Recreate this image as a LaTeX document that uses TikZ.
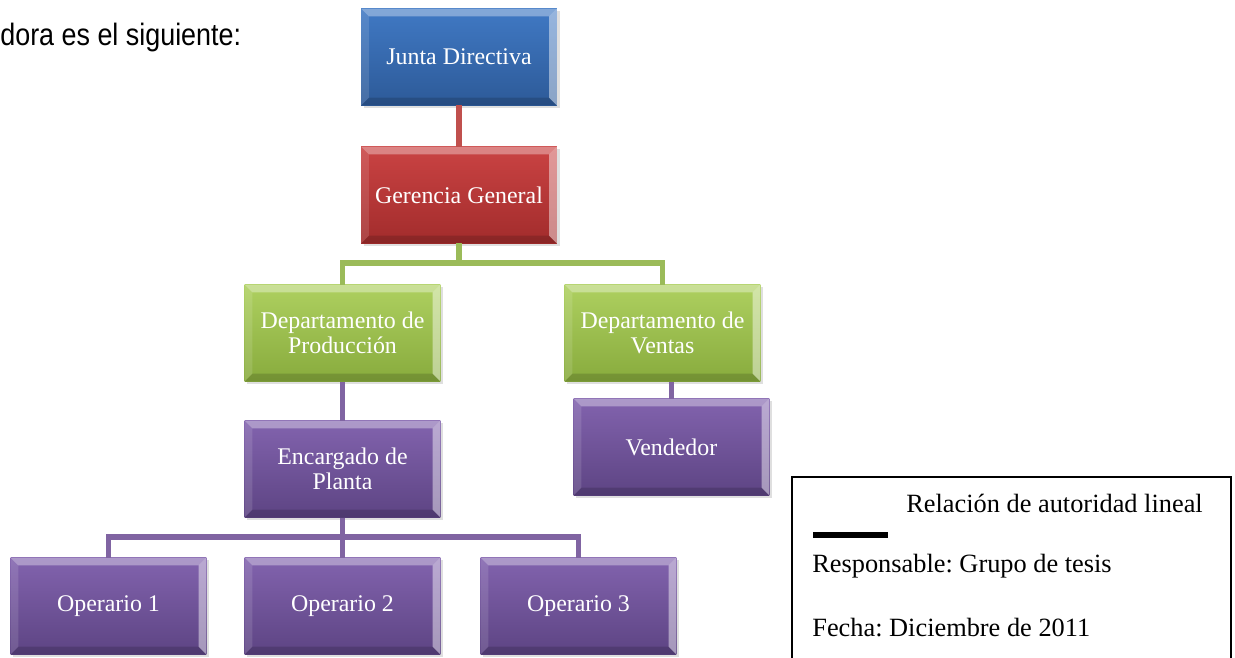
\documentclass[tikz,border=0pt]{standalone}
\usepackage{fontspec}
\setmainfont{Liberation Serif}
\newfontfamily\introfont[FakeStretch=0.87]{Liberation Sans}
\usetikzlibrary{shadows}
\frenchspacing

\definecolor{azulA}{HTML}{4079C4}
\definecolor{azulB}{HTML}{2D5A98}
\definecolor{rojoA}{HTML}{CA4343}
\definecolor{rojoB}{HTML}{A22C2C}
\definecolor{verdeA}{HTML}{AED060}
\definecolor{verdeB}{HTML}{88AB3D}
\definecolor{moradoA}{HTML}{8263AE}
\definecolor{moradoB}{HTML}{5D4483}
\definecolor{lineaR}{HTML}{C0504D}
\definecolor{lineaV}{HTML}{9BBB59}
\definecolor{lineaM}{HTML}{8064A2}

\tikzset{
  caja/.style 2 args={minimum width=3.92cm, minimum height=1.94cm, inner sep=2pt, outer sep=0pt,
    top color=#1, bottom color=#2, text=white, align=center,
    font=\fontsize{13.6}{14}\selectfont,
    drop shadow={shadow xshift=1.5pt, shadow yshift=-1.5pt, opacity=0.25},
    path picture={
      \def\bv{4.5pt}
      \fill[white,opacity=0.35] (path picture bounding box.north west) -- (path picture bounding box.north east)
        -- ([xshift=-\bv,yshift=-\bv]path picture bounding box.north east) -- ([xshift=\bv,yshift=-\bv]path picture bounding box.north west) -- cycle;
      \fill[white,opacity=0.45] (path picture bounding box.north east) -- (path picture bounding box.south east)
        -- ([xshift=-\bv,yshift=\bv]path picture bounding box.south east) -- ([xshift=-\bv,yshift=-\bv]path picture bounding box.north east) -- cycle;
      \fill[white,opacity=0.12] (path picture bounding box.north west) -- (path picture bounding box.south west)
        -- ([xshift=\bv,yshift=\bv]path picture bounding box.south west) -- ([xshift=\bv,yshift=-\bv]path picture bounding box.north west) -- cycle;
      \fill[black,opacity=0.15] (path picture bounding box.south west) -- (path picture bounding box.south east)
        -- ([xshift=-\bv,yshift=\bv]path picture bounding box.south east) -- ([xshift=\bv,yshift=\bv]path picture bounding box.south west) -- cycle;
    }},
  azul/.style={caja={azulA}{azulB}},
  rojo/.style={caja={rojoA}{rojoB}},
  verde/.style={caja={verdeA}{verdeB}},
  morado/.style={caja={moradoA}{moradoB}},
  linR/.style={draw=lineaR, line width=3pt},
  linV/.style={draw=lineaV, line width=3pt},
  linM/.style={draw=lineaM, line width=3pt},
  leyenda/.style={anchor=base west, inner sep=0pt, font=\fontsize{15}{18}\selectfont}
}

\begin{document}
\begin{tikzpicture}[x=0.02cm, y=-0.02cm]  % organigrama
  \useasboundingbox (0,0) rectangle (1235,657);
  \clip (0,0) rectangle (1235,657);

  \node[anchor=base west, inner sep=0pt, font={\introfont\fontsize{17.6}{20}\selectfont}] (intro) at (0,45) {dora es el siguiente:};

  \node[azul] (jd) at (459,57) {Junta Directiva};
  \node[rojo] (gg) at (459,195) {Gerencia General};
  \node[verde] (dp) at (342.5,333) {Departamento de\\Producción};
  \node[verde] (dv) at (662.5,333) {Departamento de\\Ventas};
  \node[morado] (ep) at (342.5,469) {Encargado de\\Planta};
  \node[morado] (vend) at (671.5,447) {Vendedor};
  \node[morado] (op1) at (108.5,606) {Operario 1};
  \node[morado] (op2) at (342.5,606) {Operario 2};
  \node[morado] (op3) at (578.5,606) {Operario 3};

  \coordinate (gbar) at (459,263);
  \coordinate (obar) at (342.5,537);
  \draw[linR] (jd.south) -- (gg.north);
  \draw[linV] (gg.south) -- (gbar);
  \draw[linV] (dp.north) |- (gbar) -| (dv.north);
  \draw[linM] (dp.south) -- (ep.north);
  \draw[linM] (vend.north) -- (vend.north |- dv.south);
  \draw[linM] (ep.south) -- (op2.north);
  \draw[linM] (op1.north) |- (obar) -| (op3.north);

  % leyenda
  \draw[line width=0.8pt] (792,477) rectangle (1231,680);
  \node[leyenda] (rel) at (906,512) {Relación de autoridad lineal};
  \draw[line width=3pt] (813,535) -- (888,535);
  \node[leyenda] (resp) at (812,572) {Responsable: Grupo de tesis};
  \node[leyenda] (fecha) at (812,636) {Fecha: Diciembre de 2011};
\end{tikzpicture}
\end{document}
